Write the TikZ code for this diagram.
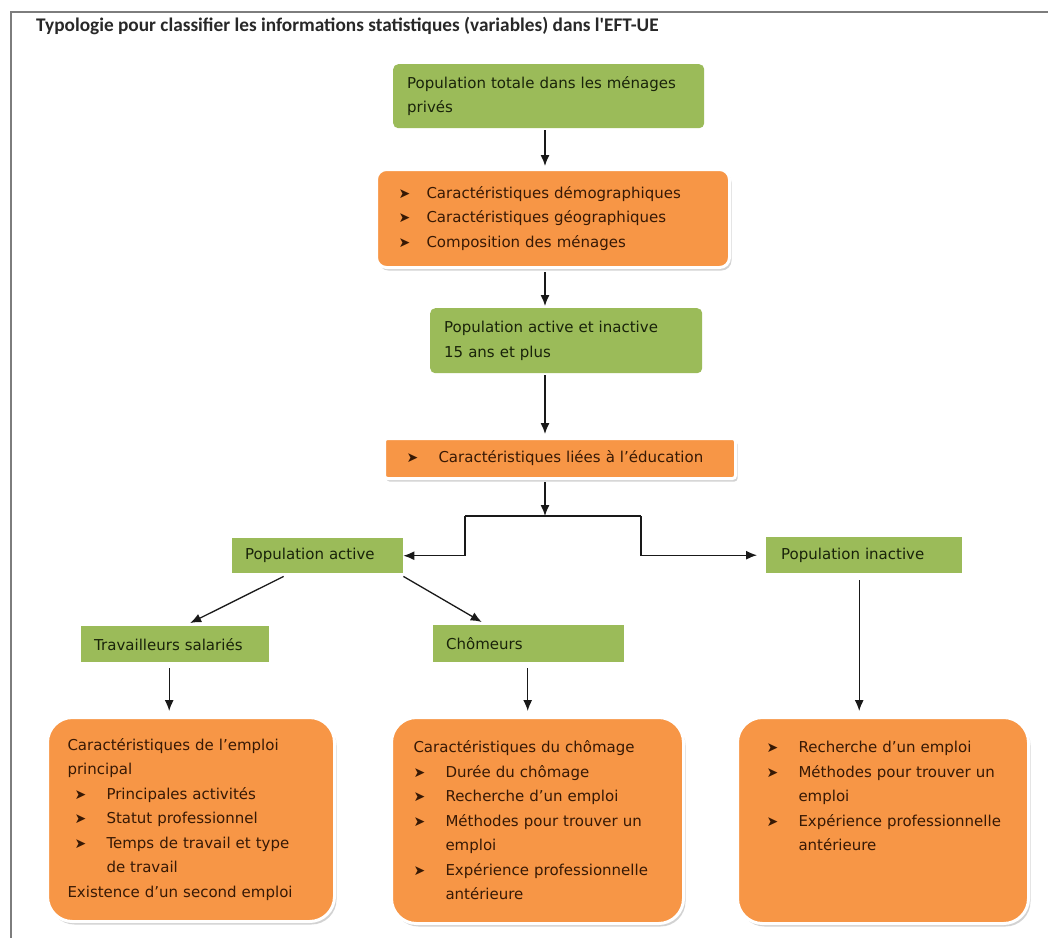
\documentclass[tikz,border=0pt]{standalone}
\usepackage{fontspec}
\setmainfont{DejaVu Sans}
\newfontfamily\titlefont{Carlito}
\usetikzlibrary{arrows.meta,calc,positioning,shadows}
\definecolor{boxGreen}{RGB}{155,187,89}
\definecolor{boxOrange}{RGB}{247,150,70}
\definecolor{textGreen}{RGB}{25,35,10}
\definecolor{textOrange}{RGB}{55,25,5}
\definecolor{frameGray}{RGB}{125,125,125}
\definecolor{titleGray}{RGB}{40,40,40}
\definecolor{linkColor}{RGB}{25,25,25}
\newcommand{\boxfont}{\fontsize{15}{24.5}\selectfont}
\newcommand{\bul}[1][32pt]{\makebox[#1][l]{\fontsize{14}{14}\selectfont ➤}}
\tikzset{population/.style={fill=boxGreen, text=textGreen, font=\boxfont, align=left, anchor=north west, inner xsep=14pt, inner ysep=0pt, rounded corners=5pt}}
\tikzset{feature/.style={population, fill=boxOrange, text=textOrange, draw=white, line width=3pt, drop shadow={shadow xshift=2pt, shadow yshift=-3pt, fill=black!35}, inner xsep=22pt}}
\tikzset{link/.style={draw=linkColor, line width=1.3pt, -{Latex[length=11pt,width=9pt]}}}
\begin{document}
\begin{tikzpicture}[x=1pt, y=-1pt]
\useasboundingbox (0,0) rectangle (1048,938);
% Frame and title
\draw[frameGray, line width=2pt] (1048,12) -- (11,12) -- (11,938);
\node (title) [anchor=west, inner sep=0pt, text=titleGray, font={\titlefont\bfseries\fontsize{19.3}{21}\selectfont}] at (36,26) {Typologie pour classifier les informations statistiques (variables) dans l'EFT-UE};

% Nodes
\node (pop) [population, text width=283pt, minimum height=64pt] at (393,64) {Population totale dans les ménages\\ privés};

\node (demo) [feature, rounded corners=10pt, text width=309pt, minimum height=98pt] at (375,168) {\bul[28pt]Caractéristiques démographiques\\ \bul[28pt]Caractéristiques géographiques\\ \bul[28pt]Composition des ménages};

\node (actinact) [population, text width=244pt, minimum height=65pt] at (430,308) {Population active et inactive\\ 15 ans et plus};

\node (educ) [feature, rounded corners=3pt, text width=307pt, minimum height=40pt] at (383,437) {\bul Caractéristiques liées à l'éducation};

\node (popact) [population, rounded corners=0pt, inner xsep=13pt, text width=145pt, minimum height=35pt] at (232,538) {Population active};

\node (popinact) [population, rounded corners=0pt, inner xsep=15pt, text width=166pt, minimum height=36pt] at (766,537) {Population inactive};

\node (salaries) [population, rounded corners=0pt, inner xsep=13pt, text width=162pt, minimum height=36pt] at (81,626) {Travailleurs salariés};

\node (chomeurs) [population, rounded corners=0pt, inner xsep=13pt, text width=165pt, minimum height=37pt] at (433,625) {Chômeurs};

\node (emploi) [feature, rounded corners=25pt, inner xsep=20pt, text width=247pt, minimum height=204pt] at (46,716) {Caractéristiques de l'emploi\\ principal\\ \hspace*{7pt}\bul Principales activités\\ \hspace*{7pt}\bul Statut professionnel\\ \hspace*{7pt}\bul Temps de travail et type\\ \hspace*{39pt}de travail\\ Existence d'un second emploi};

\node (chomage) [feature, rounded corners=25pt, text width=248pt, minimum height=206pt] at (390,716) {Caractéristiques du chômage\\ \bul Durée du chômage\\ \bul Recherche d'un emploi\\ \bul Méthodes pour trouver un\\ \hspace*{32pt}emploi\\ \bul Expérience professionnelle\\ \hspace*{32pt}antérieure};

\node (recherche) [feature, rounded corners=25pt, text width=247pt, minimum height=206pt] at (736,716) {\hspace*{7pt}\bul Recherche d'un emploi\\ \hspace*{7pt}\bul Méthodes pour trouver un\\ \hspace*{39pt}emploi\\ \hspace*{7pt}\bul Expérience professionnelle\\ \hspace*{39pt}antérieure\\ \mbox{}\\ \mbox{}};

% Connectors
\coordinate (spine) at (545,0);
\coordinate (split) at (545,516);
\coordinate (splitL) at (465,516);
\coordinate (splitR) at (641,516);

\draw[link, shorten <=2pt, shorten >=2pt] (spine |- pop.south) -- (spine |- demo.north);
\draw[link, shorten <=3pt, shorten >=2pt] (spine |- demo.south) -- (spine |- actinact.north);
\draw[link, shorten <=2pt, shorten >=3pt] (spine |- actinact.south) -- (spine |- educ.north);
\draw[link, shorten <=2pt] (spine |- educ.south) -- (split);
\draw[draw=linkColor, line width=1.3pt] (splitL) -- (splitR);
\draw[link] (splitL) |- (popact.east);
\draw[link, shorten >=9pt] (splitR) |- (popinact.west);

\draw[link] ($(popact.south)+(-34,3)$) -- ($(salaries.north)+(15,-3)$);
\draw[link] ($(popact.south east)+(0,3)$) -- ($(chomeurs.north)+(-47,-3)$);

\draw[link] ($(salaries.south)+(-6,6)$) -- ($(salaries.south |- emploi.north)+(-6,-5)$);
\draw[link] ($(chomeurs.south)+(-1,6)$) -- ($(chomeurs.south |- chomage.north)+(-1,-5)$);
\draw[link] ($(popinact.south)+(-5,7)$) -- ($(popinact.south |- recherche.north)+(-5,-5)$);

\end{tikzpicture}
\end{document}
